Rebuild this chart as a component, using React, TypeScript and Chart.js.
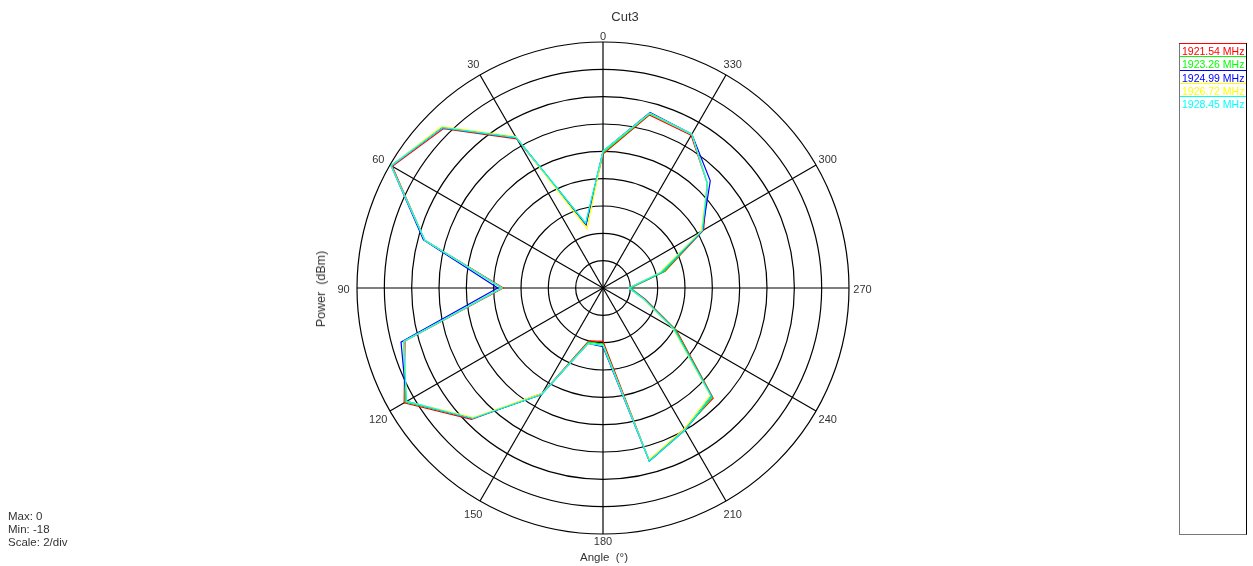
import React, { useEffect, useRef } from "react";
import { Chart, registerables } from "chart.js";

Chart.register(...registerables);

// Angles (degrees, counter-clockwise from top), 15° step
const angles: number[] = [0, 15, 30, 45, 60, 75, 90, 105, 120, 135, 150, 165, 180, 195, 210, 225, 240, 255, 270, 285, 300, 315, 330, 345];

const seriesNames: string[] = ["1921.54 MHz", "1923.26 MHz", "1924.99 MHz", "1926.72 MHz", "1928.45 MHz"];
const seriesColors: string[] = ["#ff0000", "#00ff00", "#0000ff", "#ffff00", "#00ffff"];

const red: number[] = [-8.2, -13.2, -5.4, -1.5, -0.2, -4.5, -10.7, -3.0, -1.2, -4.4, -9.1, -14.0, -14.1, -4.9, -6.1, -6.6, -11.8, -14.8, -16.0, -13.3, -9.5, -7.2, -5.1, -4.9];
const green: number[] = [-8.1, -13.1, -5.3, -1.4, -0.1, -4.5, -10.6, -2.9, -1.3, -4.5, -9.0, -13.9, -13.9, -4.9, -6.0, -6.7, -11.9, -14.9, -16.0, -13.4, -9.6, -7.2, -5.0, -4.8];
const blue: number[] = [-8.0, -13.2, -5.3, -1.4, -0.1, -4.4, -10.3, -2.7, -1.4, -4.5, -9.0, -13.8, -13.7, -4.9, -6.0, -6.8, -12.0, -14.9, -16.1, -13.6, -9.6, -6.9, -5.0, -4.7];
const yellow: number[] = [-8.0, -13.5, -5.2, -1.3, -0.1, -4.5, -10.6, -2.9, -1.4, -4.6, -9.1, -13.8, -13.8, -5.0, -6.1, -6.9, -12.1, -15.0, -16.1, -13.7, -9.7, -7.2, -5.0, -4.75];
const cyan: number[] = [-8.0, -13.1, -5.3, -1.4, -0.1, -4.5, -10.6, -2.9, -1.4, -4.5, -9.0, -13.8, -13.8, -4.9, -6.0, -6.8, -12.0, -14.9, -16.1, -13.6, -9.6, -7.2, -5.0, -4.75];

const seriesValues: number[][] = [red, green, blue, yellow, cyan];

const rMin = -18;
const rMax = 0;
const rStep = 2;
const labelStep = 30;

const FONT = "'Liberation Sans', Arial, sans-serif";

const angleLabelPlugin = {
  id: "angleLabels",
  afterDraw(chart: any) {
    const scale = chart.scales.r;
    const ctx = chart.ctx;
    ctx.save();
    ctx.font = `11px ${FONT}`;
    ctx.fillStyle = "#333";
    ctx.textAlign = "center";
    ctx.textBaseline = "middle";
    (chart.data.labels as string[]).forEach((lab, i) => {
      const a = Number(lab);
      if (a % labelStep !== 0) return;
      const off = a === 0 ? 7 : a === 180 ? 6 : 13.5;
      const p = scale.getPointPosition(i, scale.drawingArea + off);
      ctx.fillText(String(lab), p.x, p.y + 2);
    });
    ctx.restore();
  },
};

export default function App() {
  const canvasRef = useRef<HTMLCanvasElement | null>(null);

  useEffect(() => {
    const canvas = canvasRef.current;
    if (!canvas) return;
    const n = angles.length;
    // Chart.js radar runs clockwise from the top; the reference runs counter-clockwise.
    const order = Array.from({ length: n }, (_, i) => (n - i) % n);
    const labels = order.map((k) => String(angles[k]));
    const datasets = seriesValues.map((vals, s) => ({
      label: seriesNames[s],
      data: order.map((k) => vals[k]),
      borderColor: seriesColors[s],
      backgroundColor: seriesColors[s],
      borderWidth: 1.2,
      pointRadius: 0,
      pointHoverRadius: 0,
      fill: false,
      tension: 0,
      order: seriesValues.length - 1 - s,
    }));

    const chart = new Chart(canvas, {
      type: "radar",
      data: { labels, datasets },
      plugins: [angleLabelPlugin],
      options: {
        responsive: false,
        animation: false,
        layout: { padding: { left: 0, right: 47, top: 42, bottom: 31 } },
        plugins: {
          legend: { display: false },
          title: { display: false },
          tooltip: { enabled: false },
        },
        scales: {
          r: {
            min: rMin,
            max: rMax,
            ticks: { display: false, stepSize: rStep },
            grid: { circular: true, color: "#000", lineWidth: 1.2 },
            angleLines: {
              display: true,
              color: "#000",
              lineWidth: (ctx: any) => (ctx.index % 2 === 0 ? 1.2 : 0),
            },
            pointLabels: { display: false },
          },
        },
      },
    });
    return () => chart.destroy();
  }, []);

  const textBase: React.CSSProperties = {
    position: "absolute",
    fontFamily: FONT,
    color: "#333",
    whiteSpace: "pre",
  };

  return (
    <div style={{ position: "absolute", left: 0, top: 0, width: 1253, height: 566, background: "#fff", overflow: "hidden" }}>
      <canvas ref={canvasRef} width={1253} height={566} style={{ position: "absolute", left: 0, top: 0, width: 1253, height: 566 }} />
      <div style={{ ...textBase, left: 625, top: 16, fontSize: 13, transform: "translate(-50%, -50%)" }}>Cut3</div>
      <div style={{ ...textBase, left: 321, top: 289, fontSize: 12.5, transform: "translate(-50%, -50%) rotate(-90deg)" }}>{"Power  (dBm)"}</div>
      <div style={{ ...textBase, left: 604, top: 557, fontSize: 11.5, transform: "translate(-50%, -50%)" }}>{"Angle  (°)"}</div>
      <div style={{ ...textBase, left: 8, top: 510, fontSize: 11.5, lineHeight: "13px" }}>
        <div>Max: 0</div>
        <div>Min: -18</div>
        <div>Scale: 2/div</div>
      </div>
      <div
        style={{
          position: "absolute",
          left: 1179,
          top: 43,
          width: 66,
          height: 490,
          borderLeft: "1px solid #777",
          borderBottom: "1px solid #777",
          borderRight: "1px solid #000",
          borderTop: "1px solid #000",
          boxSizing: "content-box",
        }}
      >
        {seriesNames.map((name, i) => (
          <div
            key={name}
            style={{
              borderTop: `1px solid ${seriesColors[i]}`,
              marginTop: i === 0 ? -1 : 0,
              color: seriesColors[i],
              fontFamily: FONT,
              fontSize: 10.5,
              height: 12.3,
              lineHeight: "14px",
              paddingLeft: 2,
              whiteSpace: "nowrap",
            }}
          >
            {name}
          </div>
        ))}
      </div>
    </div>
  );
}
